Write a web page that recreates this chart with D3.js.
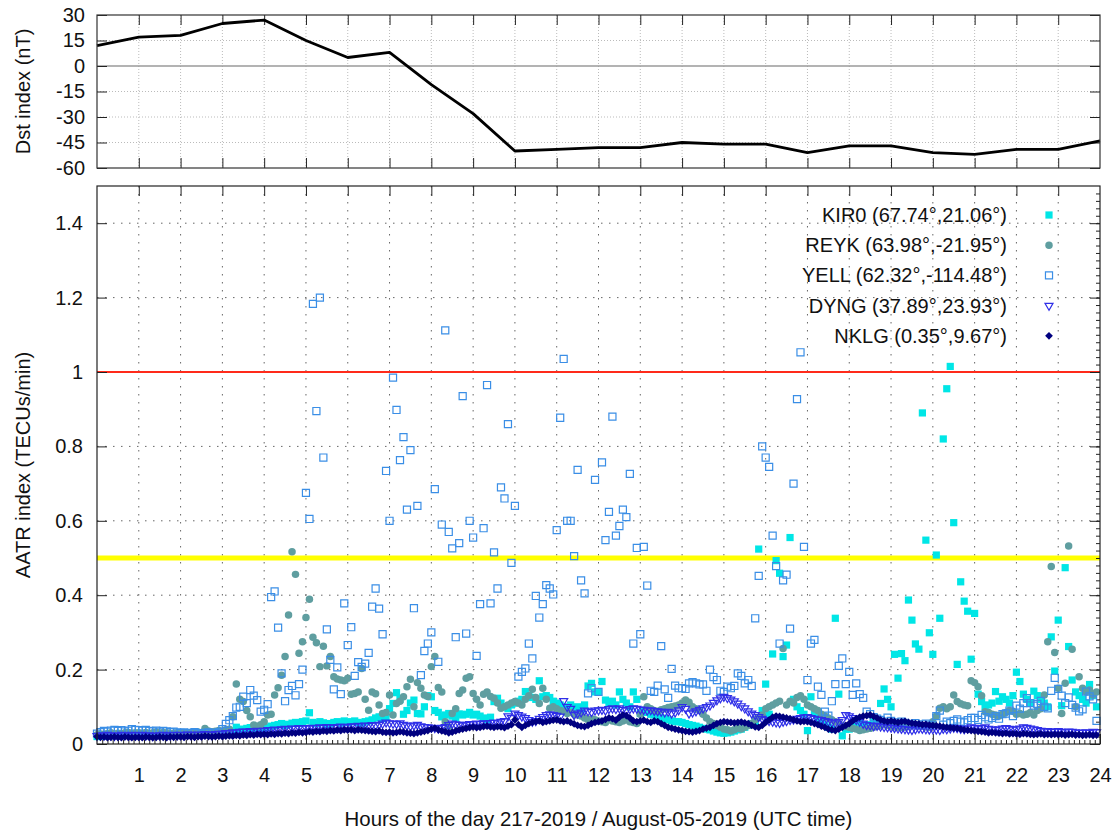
<!DOCTYPE html>
<html>
<head>
<meta charset="utf-8">
<script src="https://cdn.jsdelivr.net/npm/d3@7"></script>
<style>
  body { margin: 0; background: #fff; }
  svg { display: block; }
  text { font-family: "Liberation Sans", Arial, Helvetica, sans-serif; fill: #111; }
</style>
</head>
<body>
<script>

// ---- Dst index, hourly (nT)
var dstHours = [0,1,2,3,4,5,6,7,8,9,10,11,12,13,14,15,16,17,18,19,20,21,22,23,24];
var dstValues = [12,17,18,25,27,15,5,8,-11,-28,-50,-49,-48,-48,-45,-46,-46,-51,-47,-47,-51,-52,-49,-49,-44];
var dstTicks = [-60,-45,-30,-15,0,15,30];

// ---- AATR index, one value every 5 minutes, in 1/1000 TECUs/min (one row per hour)
var sampleMinutes = 5;

var kir0 = [
  20,22,21,23,22,24,23,22,24,25,23,24,
  24,25,23,24,26,25,24,23,25,26,24,25,
  25,26,24,27,26,25,27,28,26,27,28,30,
  30,32,31,34,45,40,38,42,44,40,42,45,
  42,45,48,50,52,55,50,53,56,58,55,60,
  62,84,58,55,60,57,52,55,58,60,56,62,
  58,60,62,58,56,60,62,65,70,73,68,72,
  95,109,138,120,80,90,110,118,82,81,100,130,
  127,90,85,73,78,82,75,70,81,78,80,85,
  78,80,75,70,65,72,114,123,110,100,95,105,
  110,115,120,141,130,125,120,170,127,130,125,115,
  110,105,100,95,105,98,100,92,105,156,163,140,
  140,168,118,110,115,105,140,120,110,100,140,120,
  82,90,85,80,78,75,70,68,65,62,60,60,
  58,55,52,50,48,45,42,40,38,35,32,30,
  29,30,32,35,38,40,45,50,55,60,524,90,
  161,80,242,493,459,235,266,555,120,100,90,80,
  36,127,87,70,60,50,45,40,338,134,22,40,
  40,45,50,55,48,52,50,60,65,109,148,120,
  100,241,177,243,224,387,333,269,255,890,548,299,
  241,508,338,820,955,1015,595,214,436,384,357,228,
  351,134,114,100,105,110,141,115,127,120,110,130,
  193,168,134,120,110,142,130,120,110,100,288,196,
  333,103,474,262,172,140,130,120,110,160,130,100
];

var reyk = [
  25,27,26,28,30,27,29,28,30,31,29,30,
  30,29,31,28,30,32,29,31,30,28,29,30,
  28,30,29,31,30,32,30,42,35,33,34,36,
  35,38,40,73,161,120,114,90,73,51,48,52,
  60,78,80,132,151,185,235,347,517,456,244,275,
  340,389,287,272,208,263,210,235,181,175,172,170,
  177,134,136,140,203,120,91,140,135,105,82,85,
  132,78,109,115,127,154,174,100,165,150,132,128,
  208,235,152,140,60,45,82,95,136,145,177,181,
  136,120,105,134,140,128,123,110,96,100,105,110,
  114,110,105,120,130,147,125,109,150,120,96,100,
  95,90,88,82,85,80,78,75,70,65,68,65,
  62,60,58,65,62,60,58,62,65,60,58,55,
  80,127,100,95,90,88,92,95,98,100,102,105,
  110,118,112,100,95,90,80,70,60,55,50,45,
  40,38,35,38,42,40,45,50,55,65,72,78,
  95,100,105,110,115,257,105,115,110,125,130,120,
  105,100,95,90,80,75,70,65,60,55,50,47,
  45,42,40,36,38,40,42,45,48,50,52,50,
  48,46,45,44,45,47,50,52,50,48,46,45,
  60,75,96,100,95,100,132,114,108,105,103,170,
  165,154,130,87,85,80,78,75,80,85,90,88,
  80,82,78,80,85,78,90,95,132,275,477,246,
  150,82,163,532,255,100,181,150,140,145,132,140
];

var yell = [
  28,32,35,33,36,38,35,37,34,36,40,38,
  37,36,38,35,34,36,33,35,34,32,33,31,
  30,31,29,30,32,29,28,30,31,29,30,32,
  40,54,64,75,98,100,127,110,145,130,118,87,
  92,107,395,410,313,190,115,145,156,131,161,200,
  675,605,1183,895,1200,770,308,226,147,206,134,378,
  266,314,183,220,207,216,245,369,418,364,295,734,
  600,985,898,763,825,630,790,365,640,185,250,270,
  300,685,221,590,1112,570,526,287,540,935,297,600,
  555,237,376,580,965,378,515,418,690,660,860,487,
  640,181,194,203,270,230,398,340,376,427,418,402,
  575,877,1035,600,600,505,737,440,405,136,150,710,
  140,757,548,624,880,560,586,630,610,726,270,527,
  295,530,426,143,140,157,263,147,124,202,157,150,
  150,148,163,166,163,160,160,143,200,180,172,143,
  140,154,150,156,190,183,163,172,156,338,452,800,
  770,745,560,478,270,440,455,310,700,927,1053,530,
  172,270,280,154,132,87,76,115,161,210,230,161,
  194,132,163,134,124,87,80,72,68,65,60,71,
  62,58,55,60,57,54,52,56,50,53,55,52,
  50,75,90,52,60,56,62,66,60,58,64,70,
  70,65,78,72,66,70,75,68,80,82,90,75,
  103,95,110,123,110,103,108,116,100,96,143,178,
  148,130,110,125,105,98,88,93,141,128,120,62
];

var dyng = [
  22,24,23,25,24,22,23,25,24,23,25,24,
  24,25,23,24,22,23,24,25,23,24,25,24,
  25,24,26,25,24,26,25,27,26,25,27,28,
  28,30,29,32,31,33,34,33,35,34,36,35,
  36,38,37,39,38,40,41,40,42,41,43,42,
  43,42,44,43,45,44,46,45,44,46,47,45,
  46,48,47,49,48,50,49,51,50,52,55,58,
  56,55,54,56,52,50,48,50,52,48,46,45,
  44,43,42,44,46,51,55,53,52,50,52,54,
  53,55,54,56,55,57,58,56,60,62,75,70,
  82,78,74,70,65,60,62,68,73,78,80,78,
  76,74,116,100,95,78,82,85,90,88,86,90,
  91,92,90,94,96,94,96,92,90,94,96,95,
  93,92,90,91,89,88,87,85,87,82,85,91,
  100,95,82,85,88,92,96,100,104,111,118,123,
  127,124,120,115,109,102,96,88,82,78,73,68,
  65,62,60,58,57,60,62,65,66,68,70,72,
  73,70,68,66,65,62,60,58,56,60,65,78,
  75,70,65,60,55,51,50,48,49,47,46,45,
  44,43,42,41,40,39,38,40,42,41,40,39,
  40,39,38,41,40,42,44,43,41,40,42,45,
  44,42,43,45,41,40,38,40,42,43,41,39,
  40,42,45,44,42,40,38,36,34,35,33,34,
  35,33,32,34,33,32,30,31,32,30,33,32
];

var nklg = [
  20,18,19,17,18,19,18,17,19,18,17,18,
  18,17,19,18,17,18,19,18,17,19,18,19,
  19,18,20,19,18,20,19,21,20,19,20,21,
  20,21,22,21,23,22,24,23,25,24,26,25,
  26,25,27,26,28,27,29,28,30,29,31,30,
  31,33,32,34,33,35,34,36,35,37,36,38,
  37,38,36,38,37,36,35,34,33,35,32,31,
  32,30,31,33,32,30,29,28,30,32,34,36,
  40,43,38,35,33,30,32,35,38,40,42,44,
  46,44,45,47,48,46,45,47,46,44,48,52,
  65,52,45,50,55,58,60,62,58,60,62,64,
  65,62,60,62,58,54,50,48,47,50,55,58,
  60,62,66,70,68,64,72,78,76,70,62,60,
  62,64,60,58,62,60,55,50,45,43,40,38,
  36,34,33,32,34,36,40,43,45,50,55,58,
  60,59,58,57,58,59,57,55,50,46,45,50,
  58,65,72,75,74,72,70,68,65,62,60,61,
  60,58,55,52,48,45,40,38,36,40,45,50,
  55,62,68,72,75,76,78,74,70,65,62,60,
  62,60,58,60,61,58,56,55,54,52,53,51,
  50,49,48,46,45,44,43,42,40,38,37,36,
  35,34,33,32,30,31,30,29,28,29,27,28,
  27,26,28,27,26,25,26,27,25,26,25,26,
  25,26,24,25,26,24,25,23,24,25,23,24
];

var stationNames = ["KIR0 (67.74°,21.06°)", "REYK (63.98°,-21.95°)", "YELL (62.32°,-114.48°)",
                    "DYNG (37.89°,23.93°)", "NKLG (0.35°,9.67°)"];
var hourTicks = [1,2,3,4,5,6,7,8,9,10,11,12,13,14,15,16,17,18,19,20,21,22,23,24];
var aatrTicks = [0,0.2,0.4,0.6,0.8,1,1.2,1.4];
var thresholds = [1, 0.5];

// ---- layout
var width = 1118, height = 831;
var left = 97, right = 1100;
var top1 = 15, bot1 = 168;
var top2 = 186, bot2 = 744;

var svg = d3.select("body").append("svg")
    .attr("width", width)
    .attr("height", height);

var x = d3.scaleLinear().domain([0, 24]).range([left, right]);
var yDst = d3.scaleLinear().domain([-60, 30]).range([bot1, top1]);
var y = d3.scaleLinear().domain([0, 1.5]).range([bot2, top2]);

// ================= top panel: Dst
var gridTop = svg.append("g");
gridTop.selectAll("line.v").data(d3.range(1, 24)).enter().append("line")
    .attr("x1", d => x(d)).attr("x2", d => x(d))
    .attr("y1", top1).attr("y2", bot1)
    .attr("stroke", "#bbb").attr("stroke-width", 1).attr("stroke-dasharray", "1,2");
gridTop.selectAll("line.h").data(dstTicks.filter(d => d > -60 && d < 30 && d !== 0)).enter().append("line")
    .attr("x1", left).attr("x2", right)
    .attr("y1", d => yDst(d)).attr("y2", d => yDst(d))
    .attr("stroke", "#bbb").attr("stroke-width", 1).attr("stroke-dasharray", "1,2");
gridTop.append("line")
    .attr("x1", left).attr("x2", right)
    .attr("y1", yDst(0)).attr("y2", yDst(0))
    .attr("stroke", "#9a9a9a").attr("stroke-width", 1.5);

svg.append("g")
    .attr("transform", "translate(0," + bot1 + ")")
    .call(d3.axisBottom(x).tickValues(hourTicks.slice(0, 23)).tickSizeInner(-10).tickSizeOuter(0).tickFormat(""))
    .call(g => g.select(".domain").remove());
svg.append("g")
    .attr("transform", "translate(0," + top1 + ")")
    .call(d3.axisTop(x).tickValues(hourTicks.slice(0, 23)).tickSizeInner(-10).tickSizeOuter(0).tickFormat(""))
    .call(g => g.select(".domain").remove());
svg.append("g")
    .attr("transform", "translate(" + left + ",0)")
    .call(d3.axisLeft(yDst).tickValues(dstTicks).tickSizeInner(-10).tickSizeOuter(0).tickPadding(12)
        .tickFormat(d => String(d)))
    .call(g => g.select(".domain").remove())
    .call(g => g.selectAll("text").attr("font-size", 20).attr("fill", "#111"));
svg.append("g")
    .attr("transform", "translate(" + right + ",0)")
    .call(d3.axisRight(yDst).tickValues(dstTicks).tickSizeInner(-10).tickSizeOuter(0).tickFormat(""))
    .call(g => g.select(".domain").remove());

svg.append("path")
    .datum(dstHours.map((h, i) => [h, dstValues[i]]))
    .attr("fill", "none")
    .attr("stroke", "#000")
    .attr("stroke-width", 2.8)
    .attr("stroke-linejoin", "round")
    .attr("d", d3.line().x(d => x(d[0])).y(d => yDst(d[1])));

svg.append("rect")
    .attr("x", left).attr("y", top1).attr("width", right - left).attr("height", bot1 - top1)
    .attr("fill", "none").attr("stroke", "#333").attr("stroke-width", 1.2);

svg.append("text")
    .attr("transform", "translate(30," + (top1 + bot1) / 2 + ") rotate(-90)")
    .attr("text-anchor", "middle")
    .attr("font-size", 20)
    .text("Dst index (nT)");

// ================= bottom panel: AATR
var grid = svg.append("g");
grid.selectAll("line.v").data(d3.range(1, 24)).enter().append("line")
    .attr("x1", d => x(d)).attr("x2", d => x(d))
    .attr("y1", top2).attr("y2", bot2)
    .attr("stroke", "#666").attr("stroke-width", 1).attr("stroke-dasharray", "1.5,6.5");
grid.selectAll("line.h").data(aatrTicks.filter(d => d > 0)).enter().append("line")
    .attr("x1", left).attr("x2", right)
    .attr("y1", d => y(d)).attr("y2", d => y(d))
    .attr("stroke", "#666").attr("stroke-width", 1).attr("stroke-dasharray", "1.5,6.5");

// threshold lines
svg.append("line")
    .attr("x1", left).attr("x2", right)
    .attr("y1", y(thresholds[1])).attr("y2", y(thresholds[1]))
    .attr("stroke", "#ffff00").attr("stroke-width", 5);
svg.append("line")
    .attr("x1", left).attr("x2", right)
    .attr("y1", y(thresholds[0])).attr("y2", y(thresholds[0]))
    .attr("stroke", "#ff2a1a").attr("stroke-width", 1.8);

// axes
var minorTicks = d3.range(0, 24 * 8 + 1).map(d => d / 8).filter(d => d % 1 !== 0);
svg.append("g")
    .attr("transform", "translate(0," + bot2 + ")")
    .call(d3.axisBottom(x).tickValues(minorTicks).tickSizeInner(-4).tickSizeOuter(0).tickFormat(""))
    .call(g => g.select(".domain").remove());
svg.append("g")
    .attr("transform", "translate(0," + bot2 + ")")
    .call(d3.axisBottom(x).tickValues(hourTicks).tickSizeInner(-10).tickSizeOuter(0).tickPadding(24))
    .call(g => g.select(".domain").remove())
    .call(g => g.selectAll("text").attr("font-size", 20).attr("fill", "#111"));
svg.append("g")
    .attr("transform", "translate(0," + top2 + ")")
    .call(d3.axisTop(x).tickValues(hourTicks.slice(0, 23)).tickSizeInner(-10).tickSizeOuter(0).tickFormat(""))
    .call(g => g.select(".domain").remove());
svg.append("g")
    .attr("transform", "translate(" + left + ",0)")
    .call(d3.axisLeft(y).tickValues(aatrTicks).tickSizeInner(-10).tickSizeOuter(0).tickPadding(14)
        .tickFormat(d => String(d)))
    .call(g => g.select(".domain").remove())
    .call(g => g.selectAll("text").attr("font-size", 20).attr("fill", "#111"));
svg.append("g")
    .attr("transform", "translate(" + right + ",0)")
    .call(d3.axisRight(y).tickValues(d3.range(1, 75).map(d => d / 50)).tickSizeInner(-4).tickSizeOuter(0).tickFormat(""))
    .call(g => g.select(".domain").remove());
svg.append("g")
    .attr("transform", "translate(" + right + ",0)")
    .call(d3.axisRight(y).tickValues(aatrTicks).tickSizeInner(-10).tickSizeOuter(0).tickFormat(""))
    .call(g => g.select(".domain").remove());
svg.selectAll(".tick line").attr("stroke", "#222");

// ---- scatter series
var series = [
  { name: stationNames[0], values: kir0, type: d3.symbolSquare, size: 52, rot: 0,   fill: "#00e6e6", stroke: "none" },
  { name: stationNames[1], values: reyk, type: d3.symbolCircle, size: 44, rot: 0,   fill: "#5f9ea0", stroke: "none" },
  { name: stationNames[2], values: yell, type: d3.symbolSquare, size: 50, rot: 0,   fill: "none",    stroke: "#3a8ee6" },
  { name: stationNames[3], values: dyng, type: d3.symbolTriangle, size: 28, rot: 180, fill: "none",  stroke: "#2f2fe8" },
  { name: stationNames[4], values: nklg, type: d3.symbolSquare, size: 30, rot: 45,  fill: "#000080", stroke: "none" }
];

var plot = svg.append("g");
series.forEach(function(s) {
  var sym = d3.symbol().type(s.type).size(s.size);
  plot.append("g").selectAll("path").data(s.values).enter().append("path")
      .attr("d", sym)
      .attr("transform", (v, i) => "translate(" + x(i * sampleMinutes / 60) + "," + y(v / 1000) + ") rotate(" + s.rot + ")")
      .attr("fill", s.fill)
      .attr("stroke", s.stroke)
      .attr("stroke-width", s.stroke === "none" ? 0 : 1.2);
});

svg.append("rect")
    .attr("x", left).attr("y", top2).attr("width", right - left).attr("height", bot2 - top2)
    .attr("fill", "none").attr("stroke", "#222").attr("stroke-width", 1.2);

// ---- legend
var legend = svg.append("g");
series.forEach(function(s, i) {
  var cy = 215 + i * 30.2;
  legend.append("text")
      .attr("x", 1007).attr("y", cy + 7)
      .attr("text-anchor", "end")
      .attr("font-size", 20)
      .text(s.name);
  legend.append("path")
      .attr("d", d3.symbol().type(s.type).size(s.size)())
      .attr("transform", "translate(1049," + cy + ") rotate(" + s.rot + ")")
      .attr("fill", s.fill)
      .attr("stroke", s.stroke)
      .attr("stroke-width", s.stroke === "none" ? 0 : 1.2);
});

// ---- titles
svg.append("text")
    .attr("transform", "translate(30," + (top2 + bot2) / 2 + ") rotate(-90)")
    .attr("text-anchor", "middle")
    .attr("font-size", 20)
    .text("AATR index (TECUs/min)");
svg.append("text")
    .attr("x", (left + right) / 2).attr("y", 826)
    .attr("text-anchor", "middle")
    .attr("font-size", 20.4)
    .text("Hours of the day 217-2019 / August-05-2019 (UTC time)");

</script>
</body>
</html>
